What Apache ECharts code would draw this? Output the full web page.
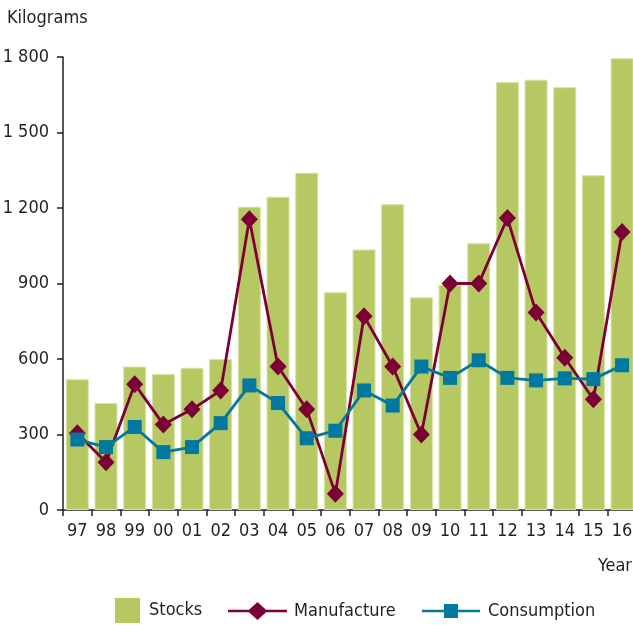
<!DOCTYPE html>
<html>
<head>
<meta charset="utf-8">
<script src="https://cdn.jsdelivr.net/npm/echarts@6/dist/echarts.min.js"></script>
<style>
html,body{margin:0;padding:0;background:#fff;}
#chart{width:633px;height:625px;}
</style>
</head>
<body>
<div id="chart"></div>
<script>
var categories = ['97','98','99','00','01','02','03','04','05','06','07','08','09','10','11','12','13','14','15','16'];
var stocks = [520,425,570,540,565,600,1205,1245,1340,865,1035,1215,845,895,1060,1700,1710,1680,1330,1795];
var manufacture = [305,190,500,340,400,475,1155,570,400,65,770,570,300,900,900,1160,785,605,440,1105];
var consumption = [280,250,330,230,250,345,495,425,285,315,475,415,570,525,595,525,515,523,520,575];
var yTicks = { min: 0, max: 1800, interval: 300 };

var FONT = "'DejaVu Sans Condensed', 'Liberation Sans Narrow', sans-serif";
var TXT = '#231f20';
var FS = 18;

var diamondIcon = 'path://M0,7.7 L21,7.7 L29.5,0 L38,7.7 L59,7.7 L59,10.3 L38,10.3 L29.5,18 L21,10.3 L0,10.3 Z';
var squareIcon = 'path://M0,5.7 L22,5.7 L22,0 L36,0 L36,5.7 L58,5.7 L58,8.3 L36,8.3 L36,14 L22,14 L22,8.3 L0,8.3 Z';

var chart = echarts.init(document.getElementById('chart'));
chart.setOption({
  animation: false,
  backgroundColor: '#ffffff',
  textStyle: { fontFamily: FONT, color: TXT },
  grid: { left: 63, right: -3.4, top: 57, bottom: 115, containLabel: false, outerBoundsMode: 'none' },
  graphic: [
    { type: 'text', left: 7, top: 9, style: { text: 'Kilograms', font: FS + 'px ' + FONT, fill: TXT } },
    { type: 'text', right: 1, top: 557, style: { text: 'Year', font: FS + 'px ' + FONT, fill: TXT } }
  ],
  legend: [
    {
      data: [{ name: 'Stocks', icon: 'rect' }], left: 115, top: 598, padding: 0, itemWidth: 25, itemHeight: 25,
      itemStyle: { borderWidth: 0 },
      textStyle: { fontSize: FS, fontFamily: FONT, color: TXT, padding: [0, 0, 0, 4] }
    },
    {
      data: [{ name: 'Manufacture', icon: diamondIcon }], left: 228, top: 602, padding: 0, itemWidth: 59, itemHeight: 18,
      textStyle: { fontSize: FS, fontFamily: FONT, color: TXT, padding: [0, 0, 0, 2] }
    },
    {
      data: [{ name: 'Consumption', icon: squareIcon }], left: 422, top: 602, padding: 0, itemWidth: 58, itemHeight: 14,
      textStyle: { fontSize: FS, fontFamily: FONT, color: TXT, padding: [0, 0, 0, 3] }
    }
  ],
  xAxis: {
    type: 'category',
    data: categories,
    boundaryGap: true,
    axisLine: { show: true, lineStyle: { color: TXT, width: 1.5 } },
    axisTick: { show: true, length: 6, alignWithLabel: false, lineStyle: { color: TXT, width: 1.5 } },
    axisLabel: { fontSize: FS, fontFamily: FONT, color: TXT, margin: 12, interval: 0 },
    splitLine: { show: false }
  },
  yAxis: {
    type: 'value',
    min: yTicks.min, max: yTicks.max, interval: yTicks.interval,
    axisLine: { show: true, lineStyle: { color: TXT, width: 1.5 } },
    axisTick: { show: true, length: 6, lineStyle: { color: TXT, width: 1.5 } },
    axisLabel: {
      fontSize: FS, fontFamily: FONT, color: TXT, margin: 14,
      formatter: function (v) { return String(v).replace(/\B(?=(\d{3})+(?!\d))/g, ' '); }
    },
    splitLine: { show: false }
  },
  series: [
    {
      name: 'Stocks', type: 'bar', data: stocks, barWidth: 23,
      itemStyle: { color: '#b5c862', borderColor: '#d9e2a6', borderWidth: 1 }
    },
    {
      name: 'Manufacture', type: 'line', data: manufacture,
      symbol: 'diamond', symbolSize: [17, 18],
      lineStyle: { color: '#7c0035', width: 2.8 },
      itemStyle: { color: '#7c0035' }
    },
    {
      name: 'Consumption', type: 'line', data: consumption,
      symbol: 'rect', symbolSize: 14,
      lineStyle: { color: '#0078a0', width: 2.8 },
      itemStyle: { color: '#0078a0' }
    }
  ]
});
</script>
</body>
</html>
